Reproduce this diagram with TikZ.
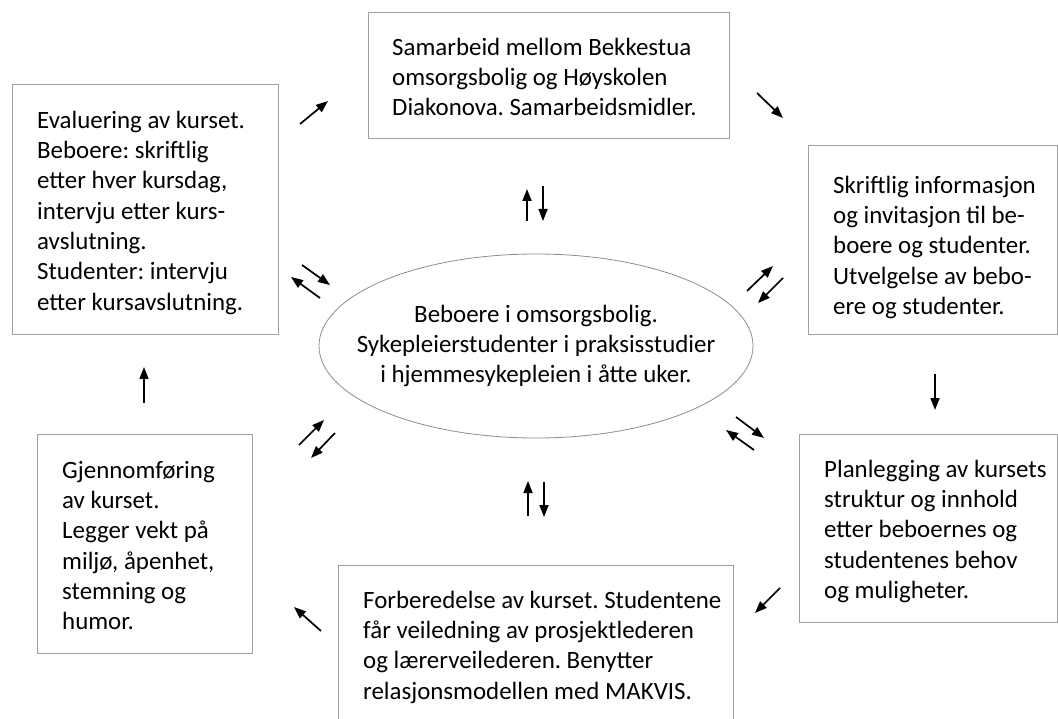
\documentclass[tikz,border=0pt]{standalone}
\usepackage{fontspec}
\setmainfont{Carlito}
\usetikzlibrary{arrows.meta,shapes.geometric}
\definecolor{boxgray}{HTML}{A0A0A0}
\definecolor{ellgray}{HTML}{8C8C8C}
\begin{document}
\frenchspacing
\begin{tikzpicture}[x=1pt,y=-1pt,
  box/.style={draw=boxgray,line width=0.9pt,rectangle,inner sep=0pt,anchor=north west},
  txt/.style={anchor=north west,inner sep=0pt,align=left,font=\fontsize{24.9}{30.3}\selectfont},
  ctxt/.style={anchor=north,inner sep=0pt,align=center,font=\fontsize{24.9}{30.3}\selectfont},
  arr/.style={-{Triangle[length=12pt,width=9pt]},line width=1.7pt}]
\useasboundingbox (0,0) rectangle (1058,719);
\clip (0,0) rectangle (1058,719);
% boxes
\node[box,minimum width=361pt,minimum height=126pt] (top) at (368,12) {};
\node[box,minimum width=266pt,minimum height=250pt] (eval) at (12,84) {};
\node[box,minimum width=249pt,minimum height=189pt] (skr) at (808,145) {};
\node[box,minimum width=258pt,minimum height=188pt] (plan) at (799,434) {};
\node[box,minimum width=215pt,minimum height=219pt] (gjen) at (37,434) {};
\node[box,minimum width=395pt,minimum height=170pt] (forb) at (338,565) {};
\node[draw=ellgray,line width=0.8pt,ellipse,minimum width=434pt,minimum height=184pt,inner sep=0pt] (ell) at (536,346) {};
% texts
\node[txt] (toptxt) at (392,33.8) {\strut Samarbeid mellom Bekkestua\\omsorgsbolig og Høyskolen\\Diakonova. Samarbeidsmidler.};
\node[txt] (evaltxt) at (37,106.8) {\strut Evaluering av kurset.\\Beboere: skriftlig\\etter hver kursdag,\\intervju etter kurs-\\avslutning.\\Studenter: intervju\\etter kursavslutning.};
\node[txt] (skrtxt) at (833,171.8) {\strut Skriftlig informasjon\\og invitasjon til be-\\boere og studenter.\\Utvelgelse av bebo-\\ere og studenter.};
\node[txt] (plantxt) at (824,455.8) {\strut Planlegging av kursets\\struktur og innhold\\etter beboernes og\\studentenes behov\\og muligheter.};
\node[txt] (gjentxt) at (62,456.8) {\strut Gjennomføring\\av kurset.\\Legger vekt på\\miljø, åpenhet,\\stemning og\\humor.};
\node[txt] (forbtxt) at (363,586.8) {\strut Forberedelse av kurset. Studentene\\får veiledning av prosjektlederen\\og lærerveilederen. Benytter\\relasjonsmodellen med MAKVIS.};
\node[ctxt] (elltxt) at (536,300.8) {\strut Beboere i omsorgsbolig.\\Sykepleierstudenter i praksisstudier\\i hjemmesykepleien i åtte uker.};
% cycle arrows
\coordinate (a1s) at (300,124); \coordinate (a1e) at (328,101);
\coordinate (a2s) at (757,93);  \coordinate (a2e) at (783,118);
\coordinate (a3s) at (935,374); \coordinate (a3e) at (935,410);
\coordinate (a4s) at (780,588); \coordinate (a4e) at (755,613);
\coordinate (a5s) at (321,631); \coordinate (a5e) at (294,607);
\coordinate (a6s) at (144,403); \coordinate (a6e) at (144,367);
\foreach \i in {1,...,6} {\draw[arr] (a\i s) -- (a\i e);}
% pairs with the centre
\coordinate (t1s) at (527,221); \coordinate (t1e) at (527,189);
\coordinate (t2s) at (543,186); \coordinate (t2e) at (543,221);
\coordinate (b1s) at (528,516); \coordinate (b1e) at (528,481);
\coordinate (b2s) at (544,482); \coordinate (b2e) at (544,517);
\coordinate (l1s) at (302,265); \coordinate (l1e) at (330,285);
\coordinate (l2s) at (320,298); \coordinate (l2e) at (291,277);
\coordinate (r1s) at (747,291); \coordinate (r1e) at (773,266);
\coordinate (r2s) at (783,278); \coordinate (r2e) at (758,303);
\coordinate (p1s) at (299,445); \coordinate (p1e) at (324,420);
\coordinate (p2s) at (335,433); \coordinate (p2e) at (311,458);
\coordinate (q1s) at (736,417); \coordinate (q1e) at (764,438);
\coordinate (q2s) at (754,450); \coordinate (q2e) at (726,430);
\foreach \p in {t,b,l,r,p,q} {
  \draw[arr] (\p1s) -- (\p1e);
  \draw[arr] (\p2s) -- (\p2e);
}
\end{tikzpicture}
\end{document}
